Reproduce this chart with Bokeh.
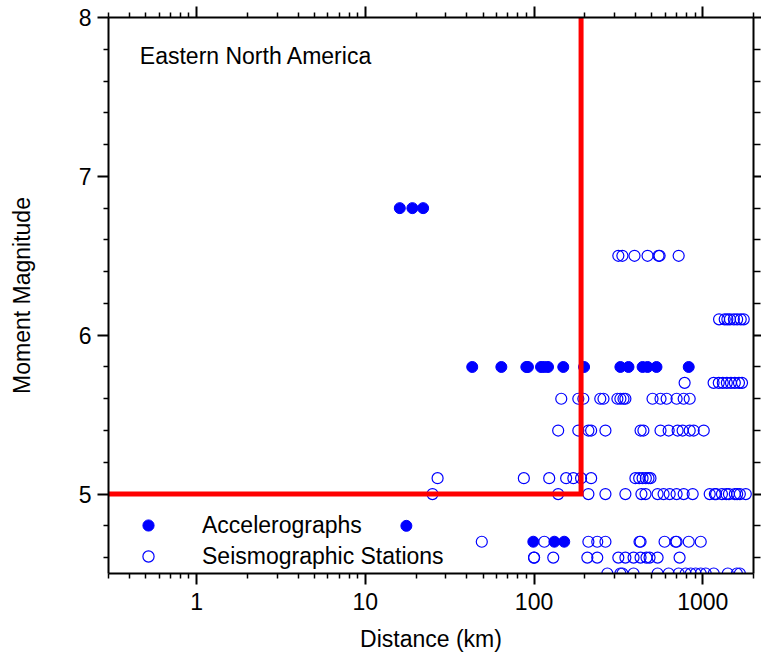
from bokeh.plotting import figure
from bokeh.models import (LogAxis, LinearAxis, FixedTicker, PrintfTickFormatter,
                          Label, Legend, LegendItem)
from bokeh.embed import file_html
from bokeh.resources import INLINE

# ---------------- data ----------------
accel_dist = [16, 19, 22,
              43, 64, 90, 92, 110, 115, 121, 149, 198, 325, 363, 440, 471, 532, 826,
              17.5,
              99, 132, 151]
accel_mag = [6.8, 6.8, 6.8,
             5.8, 5.8, 5.8, 5.8, 5.8, 5.8, 5.8, 5.8, 5.8, 5.8, 5.8, 5.8, 5.8, 5.8, 5.8,
             4.8,
             4.7, 4.7, 4.7]

seis_dist_65 = [316, 334, 394, 471, 547, 555, 720]
seis_dist_61 = [1250, 1350, 1400, 1450, 1530, 1600, 1680, 1750]
seis_dist_57 = [781, 1160, 1245, 1315, 1390, 1470, 1550, 1640, 1710]
seis_dist_56 = [145, 183, 196, 247, 258, 312, 325, 339, 348, 504, 562, 611, 700, 771, 837]
seis_dist_54 = [139, 183, 210, 218, 265, 428, 445, 562, 628, 710, 760, 837, 884, 1014]
seis_dist_51 = [26.8, 87, 123, 155, 171, 190, 218, 399, 420, 440, 460, 477, 490]
seis_dist_50 = [25, 139, 210, 265, 348, 433, 458, 540, 586, 637, 700, 771, 872,
                1100, 1180, 1200, 1300, 1380, 1430, 1550, 1600, 1660, 1800]
seis_dist_47 = [49, 115, 210, 237, 265, 422, 428, 594, 690, 700, 826, 973]
seis_dist_46 = [100, 100, 130, 207, 237, 316, 348, 389, 428, 464, 484, 540, 729]
seis_dist_45 = [272, 325, 334, 389, 540, 628, 720, 792, 849, 908, 973, 1042, 1162,
                1408, 1594, 1660]

seis_groups = [(6.5, seis_dist_65), (6.1, seis_dist_61), (5.7, seis_dist_57),
               (5.6, seis_dist_56), (5.4, seis_dist_54), (5.1, seis_dist_51),
               (5.0, seis_dist_50), (4.7, seis_dist_47), (4.6, seis_dist_46),
               (4.5, seis_dist_45)]
seis_dist = [d for m, ds in seis_groups for d in ds]
seis_mag = [m for m, ds in seis_groups for d in ds]

boundary_dist = [0.3, 190, 190]
boundary_mag = [5.0, 5.0, 8.0]

x_ticks = [1, 10, 100, 1000]
y_ticks = [5, 6, 7, 8]
x_minor = [m * 10.0 ** k for k in range(-1, 4) for m in range(2, 10)
           if 0.3 <= m * 10.0 ** k <= 2000]
y_minor = [round(4.6 + 0.2 * i, 1) for i in range(18)]
y_minor = [v for v in y_minor if v not in y_ticks]

FONT = "Liberation Sans"
FS = "23px"

p = figure(width=761, height=654, x_axis_type="log",
           x_range=(0.3, 2000), y_range=(4.5, 8),
           output_backend="svg", toolbar_location=None,
           min_border_left=108, min_border_right=8,
           min_border_top=17, min_border_bottom=80)
p.grid.visible = False
p.outline_line_color = None
p.background_fill_color = "white"
p.border_fill_color = "white"

xticker = FixedTicker(ticks=x_ticks, minor_ticks=x_minor)
yticker = FixedTicker(ticks=y_ticks, minor_ticks=y_minor)


def style_axis(ax, major_out, minor_out, labels=True):
    ax.axis_line_width = 2
    ax.axis_line_color = "black"
    ax.major_tick_line_width = 2
    ax.major_tick_line_color = "black"
    ax.minor_tick_line_width = 1.5
    ax.minor_tick_line_color = "black"
    ax.major_tick_in = 0
    ax.major_tick_out = major_out
    ax.minor_tick_in = 0
    ax.minor_tick_out = minor_out
    ax.major_label_text_font = FONT
    ax.major_label_text_color = "black"
    ax.axis_label_text_color = "black"
    if labels:
        ax.major_label_text_font_size = FS
    else:
        ax.major_label_text_font_size = "1px"
        ax.major_label_text_alpha = 0
        ax.major_label_standoff = 0


xb = p.xaxis[0]
xb.ticker = xticker
xb.formatter = PrintfTickFormatter(format="%d")
style_axis(xb, 11, 5)
xb.major_label_standoff = 8
xb.axis_label = "Distance (km)"
xb.axis_label_text_font = FONT
xb.axis_label_text_font_size = FS
xb.axis_label_text_font_style = "normal"
xb.axis_label_standoff = 13

yl = p.yaxis[0]
yl.ticker = yticker
style_axis(yl, 11, 5)
yl.major_label_standoff = 6
yl.axis_label = "Moment Magnitude"
yl.axis_label_text_font = FONT
yl.axis_label_text_font_size = FS
yl.axis_label_text_font_style = "normal"
yl.axis_label_standoff = 41

xt = LogAxis(ticker=xticker)
style_axis(xt, 11, 5, labels=False)
p.add_layout(xt, "above")

yr = LinearAxis(ticker=yticker)
style_axis(yr, 8, 7, labels=False)
p.add_layout(yr, "right")

r_acc = p.scatter(accel_dist, accel_mag, marker="circle", size=11,
                  fill_color="blue", line_color="blue", line_width=1)
r_seis = p.scatter(seis_dist, seis_mag, marker="circle", size=11,
                   fill_color=None, line_color="blue", line_width=1.2)
p.line(boundary_dist, boundary_mag, line_color="red", line_width=5,
       line_join="miter")

legend = Legend(items=[LegendItem(label="Accelerographs", renderers=[r_acc]),
                       LegendItem(label="Seismographic Stations", renderers=[r_seis])],
                location=(0, 3), orientation="vertical", padding=0, margin=0,
                spacing=3, glyph_width=80, glyph_height=28, label_height=28,
                label_standoff=14, border_line_color=None,
                background_fill_alpha=0,
                label_text_font=FONT, label_text_font_size=FS,
                label_text_color="black")
p.add_layout(legend)

p.add_layout(Label(x=0.46, y=7.76, text="Eastern North America",
                   text_font=FONT, text_font_size=FS, text_color="black",
                   text_baseline="alphabetic"))

open("out.html", "w").write(file_html(p, INLINE))
